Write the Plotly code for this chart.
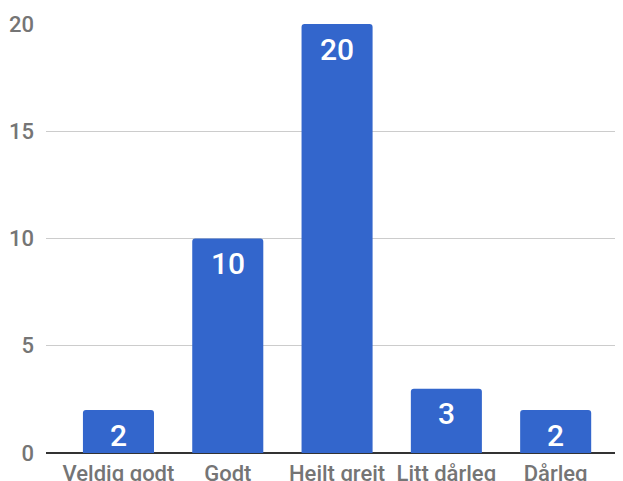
import plotly.graph_objects as go

categories = ["Veldig godt", "Godt", "Heilt greit", "Litt dårleg", "Dårleg"]
values = [2, 10, 20, 3, 2]
y_ticks = [0, 5, 10, 15, 20]

BAR_COLOR = "#3366CC"
TICK_COLOR = "#757575"
FONT = "Roboto"

fig = go.Figure()
fig.add_trace(go.Bar(
    x=list(range(len(categories))),
    y=values,
    marker=dict(color=BAR_COLOR, cornerradius=3, line=dict(width=0)),
    width=0.65,
    hoverinfo="skip",
))

for i, v in enumerate(values):
    fig.add_annotation(
        x=i, y=v, xref="x", yref="y",
        text=str(v), showarrow=False,
        yanchor="middle", yshift=-25,
        font=dict(family=FONT, size=30, color="white", weight=500),
    )

# page body has an 8px margin, so the figure is sized to fill the rest of the window
fig.update_layout(
    width=615, height=473,
    margin=dict(l=38, r=0, t=16, b=28, autoexpand=False),
    paper_bgcolor="white", plot_bgcolor="white",
    showlegend=False,
    font=dict(family=FONT),
    xaxis=dict(
        range=[-0.663, 4.616],
        tickmode="array",
        tickvals=list(range(len(categories))),
        ticktext=categories,
        tickfont=dict(family=FONT, size=22, color=TICK_COLOR, weight=500),
        showgrid=False, zeroline=False, showline=False,
        ticks="", ticklabelstandoff=5, automargin=False,
        fixedrange=True,
    ),
    yaxis=dict(
        range=[0, 20],
        tickmode="array",
        tickvals=y_ticks,
        tickfont=dict(family=FONT, size=22, color=TICK_COLOR, weight=500),
        showgrid=True, gridcolor="#CCCCCC", gridwidth=1,
        zeroline=True, zerolinecolor="#333333", zerolinewidth=2,
        showline=False, ticks="", ticklabelstandoff=11, automargin=False,
        fixedrange=True,
    ),
)

fig.write_html("out.html")
